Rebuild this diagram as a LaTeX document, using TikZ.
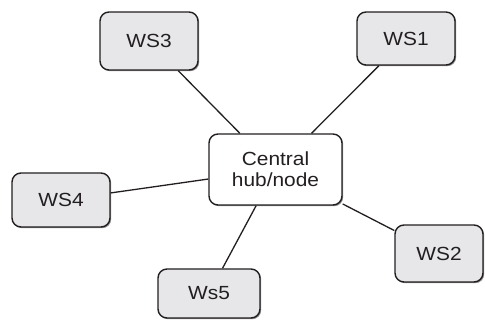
\documentclass[tikz,border=0pt]{standalone}
\usepackage{fontspec}
\setmainfont[FakeStretch=1.1]{Liberation Sans}
\usetikzlibrary{shadows}
\definecolor{boxfill}{HTML}{E7E7E9}
\definecolor{edgecol}{HTML}{231F20}
\tikzset{
  x=1pt,y=-1pt,
  wsbox/.style={draw=edgecol,line width=1.4pt,rounded corners=9pt,fill=boxfill,
    inner sep=0pt,font=\fontsize{19}{21}\selectfont,text=edgecol,
    drop shadow={shadow xshift=1.2pt,shadow yshift=-1.2pt,fill=black!55,opacity=0.8}},
  hubbox/.style={wsbox,fill=white,align=center},
  link/.style={draw=edgecol,line width=1.3pt}
}
\begin{document}
\begin{tikzpicture}
\useasboundingbox (0,0) rectangle (485,324);
\node[hubbox,minimum width=133pt,minimum height=71pt] (hub) at (275.5,169.5) {Central\\hub/node};
\node[wsbox,minimum width=98pt,minimum height=58pt] (ws3) at (149,41) {WS3};
\node[wsbox,minimum width=98pt,minimum height=53pt] (ws1) at (406,38.5) {WS1};
\node[wsbox,minimum width=98pt,minimum height=54pt] (ws4) at (61,200) {WS4};
\node[wsbox,minimum width=88pt,minimum height=57pt] (ws2) at (439,253.5) {WS2};
\node[wsbox,minimum width=102pt,minimum height=49pt] (ws5) at (209,293.5) {Ws5};
\draw[link] (ws3) -- (hub);
\draw[link] (ws1) -- (hub);
\draw[link] (ws4) -- (hub);
\draw[link] (ws2) -- (hub);
\draw[link] (ws5) -- (hub);
\end{tikzpicture}
\end{document}
